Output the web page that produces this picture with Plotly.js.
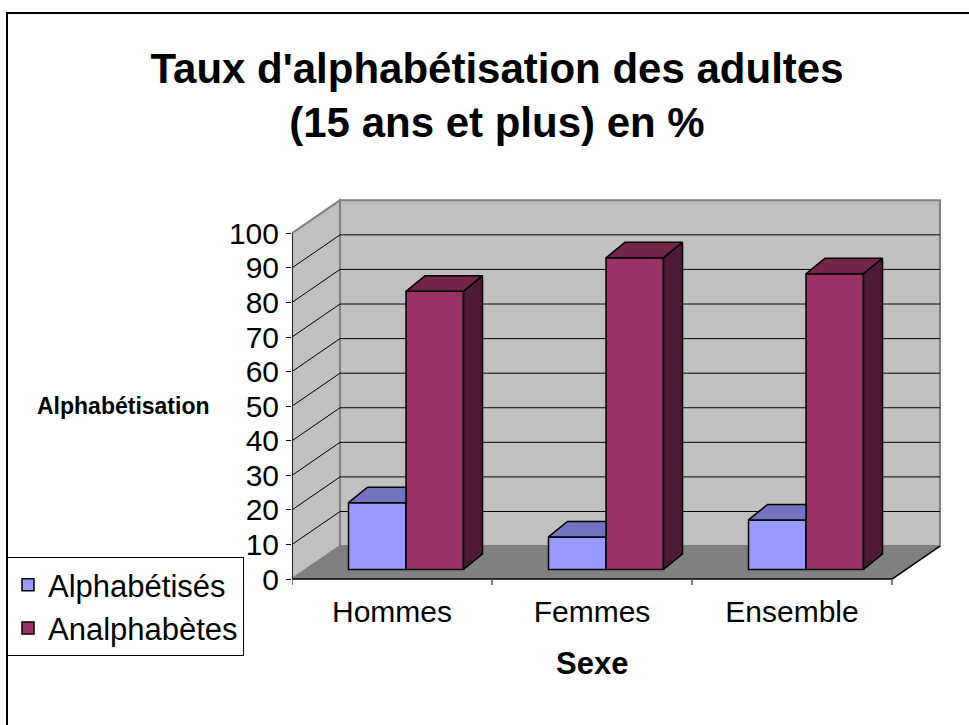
<!DOCTYPE html>
<html>
<head>
<meta charset="utf-8">
<script src="https://cdn.plot.ly/plotly-3.0.1.min.js"></script>
<style>html,body{margin:0;padding:0;background:#fff;}#chart{width:969px;height:725px;}</style>
</head>
<body>
<div id="chart"></div>
<script>
// ---- data ----
const categories = ['Hommes', 'Femmes', 'Ensemble'];
const alphabetises = [19.3, 9.4, 14.3];
const analphabetes = [80.4, 90.1, 85.5];
const seriesNames = ['Alphabétisés', 'Analphabètes'];
const yTicks = [0, 10, 20, 30, 40, 50, 60, 70, 80, 90, 100];
const chartTitle = "Taux d'alphabétisation des adultes<br>(15 ans et plus) en %";
const xTitle = 'Sexe';
const yTitle = 'Alphabétisation';

// ---- geometry (pseudo-3D oblique projection, in axis units) ----
const FONT = 'Liberation Sans, Arial, sans-serif';
const PLOT_H = 388, Y_MIN = -2, Y_MAX = 110.2;
const SY = PLOT_H / (Y_MAX - Y_MIN);   // px per value unit
const SX = 200;                         // px per category unit
const DX = 48 / SX, DY = 33 / SY;       // full depth of floor / walls
const BX0 = 14 / SX, BY0 = 9.7 / SY;    // bar front plane offset
const BDX = 19 / SX, BDY = 15.5 / SY;   // bar depth
const W = 0.2875;                       // bar width
const X0 = -0.5, X1 = categories.length - 0.5;
const YMAXV = yTicks[yTicks.length - 1];

const colors = {
  alphFront: '#9999FF', alphTop: '#7373C0',
  anaFront: '#993366', anaTop: '#732649', anaSide: '#4D1A33',
  wall: '#C0C0C0', floor: '#808080', wallEdge: '#808080'
};

const idx = categories.map((c, i) => i);
const traces = [];

traces.push({
  type: 'bar', name: seriesNames[0],
  x: idx.map(i => i - W / 2 + BX0), y: alphabetises,
  base: idx.map(() => BY0), width: idx.map(() => W),
  marker: {color: colors.alphFront, line: {color: '#000', width: 1.5}},
  hoverinfo: 'skip'
});
traces.push({
  type: 'bar', name: seriesNames[1],
  x: idx.map(i => i + W / 2 + BX0), y: analphabetes,
  base: idx.map(() => BY0), width: idx.map(() => W),
  marker: {color: colors.anaFront, line: {color: '#000', width: 1.5}},
  hoverinfo: 'skip'
});

function poly(xs, ys, fill) {
  return {type: 'scatter', mode: 'lines', x: xs.concat([xs[0]]), y: ys.concat([ys[0]]),
    fill: 'toself', fillcolor: fill, line: {color: '#000', width: 1.5},
    showlegend: false, hoverinfo: 'skip'};
}

idx.forEach(i => {
  // Alphabétisés top face (right part hidden behind the taller bar)
  let xl = i - W + BX0, xr = i + BX0, yt = BY0 + alphabetises[i];
  traces.push(poly([xl, xr, xr, xl + BDX], [yt, yt, yt + BDY, yt + BDY], colors.alphTop));
  // Analphabètes top and side faces
  xl = i + BX0; xr = i + W + BX0; yt = BY0 + analphabetes[i];
  traces.push(poly([xl, xr, xr + BDX, xl + BDX], [yt, yt, yt + BDY, yt + BDY], colors.anaTop));
  traces.push(poly([xr, xr + BDX, xr + BDX, xr], [BY0, BY0 + BDY, yt + BDY, yt], colors.anaSide));
});

// ---- walls, floor and gridlines as background shapes ----
const shapes = [];
const P = (pts) => 'M' + pts.map(p => p[0] + ',' + p[1]).join('L') + 'Z';
// back wall
shapes.push({type: 'path', layer: 'below', xref: 'x', yref: 'y',
  path: P([[X0 + DX, DY], [X1 + DX, DY], [X1 + DX, YMAXV + DY], [X0 + DX, YMAXV + DY]]),
  fillcolor: colors.wall, line: {color: colors.wallEdge, width: 2}});
// side wall
shapes.push({type: 'path', layer: 'below', xref: 'x', yref: 'y',
  path: P([[X0, 0], [X0 + DX, DY], [X0 + DX, YMAXV + DY], [X0, YMAXV]]),
  fillcolor: colors.wall, line: {color: colors.wallEdge, width: 2}});
// floor
shapes.push({type: 'path', layer: 'below', xref: 'x', yref: 'y',
  path: P([[X0, 0], [X1, 0], [X1 + DX, DY], [X0 + DX, DY]]),
  fillcolor: colors.floor, line: {width: 0}});
// gridlines
yTicks.forEach(v => {
  if (v === 0 || v === YMAXV) return;
  shapes.push({type: 'line', layer: 'below', xref: 'x', yref: 'y',
    x0: X0 + DX, x1: X1 + DX, y0: v + DY, y1: v + DY, line: {color: '#000', width: 1}});
  shapes.push({type: 'line', layer: 'below', xref: 'x', yref: 'y',
    x0: X0, x1: X0 + DX, y0: v, y1: v + DY, line: {color: '#000', width: 1}});
});
// front axis lines
shapes.push({type: 'line', layer: 'below', xref: 'x', yref: 'y',
  x0: X0, x1: X0, y0: 0, y1: YMAXV, line: {color: '#000', width: 1.5}});
shapes.push({type: 'line', layer: 'below', xref: 'x', yref: 'y',
  x0: X0, x1: X1, y0: 0, y1: 0, line: {color: '#000', width: 1.5}});
shapes.push({type: 'line', layer: 'below', xref: 'x', yref: 'y',
  x0: X1, x1: X1 + DX, y0: 0, y1: DY, line: {color: '#000', width: 1.5}});
// category boundary ticks
for (let k = 0; k <= categories.length; k++) {
  shapes.push({type: 'line', layer: 'below', xref: 'x', yref: 'y',
    x0: X0 + k, x1: X0 + k, y0: 0, y1: -6 / SY, line: {color: '#555', width: 1.5}});
}
// outer chart frame
const ML = 292, MT = 198, PW = 652;
const px2paperX = (px) => (px - ML) / PW;
const px2paperY = (py) => (MT + PLOT_H - py) / PLOT_H;
shapes.push({type: 'rect', xref: 'paper', yref: 'paper',
  x0: px2paperX(7), x1: px2paperX(990), y0: px2paperY(13), y1: px2paperY(760),
  line: {color: '#000', width: 2}, fillcolor: 'rgba(0,0,0,0)'});

const layout = {
  width: 969, height: 725,
  margin: {l: ML, r: 969 - ML - PW, t: MT, b: 725 - MT - PLOT_H, pad: 0, autoexpand: false},
  paper_bgcolor: '#fff', plot_bgcolor: '#fff',
  barmode: 'overlay', bargap: 0,
  showlegend: true,
  font: {family: FONT, color: '#000'},
  title: {text: chartTitle, xref: 'container', yref: 'container',
    x: 497 / 969, xanchor: 'center', y: 1 - 82.5 / 725, yanchor: 'middle',
    font: {family: FONT, size: 42, color: '#000', weight: 'bold'}},
  xaxis: {type: 'linear', range: [X0, X0 + PW / SX], tickvals: idx, ticktext: categories,
    showgrid: false, zeroline: false, showline: false, ticks: '', automargin: false,
    tickfont: {family: FONT, size: 30, color: '#000'}, ticklabelstandoff: 5, fixedrange: true},
  yaxis: {range: [Y_MIN, Y_MAX], tickvals: yTicks, ticktext: yTicks.map(String),
    showgrid: false, zeroline: false, showline: false, ticks: 'outside', ticklen: 5,
    tickcolor: '#000', tickwidth: 1, tickfont: {family: FONT, size: 30, color: '#000'},
    ticklabelstandoff: 1, automargin: false, fixedrange: true},
  legend: {x: px2paperX(7), xanchor: 'left', y: px2paperY(557), yanchor: 'top',
    bgcolor: '#fff', bordercolor: '#000', borderwidth: 1,
    font: {family: FONT, size: 31, color: '#000'}, traceorder: 'normal'},
  annotations: [
    {text: '<b>' + yTitle + '</b>', xref: 'paper', yref: 'paper',
      x: px2paperX(123), y: px2paperY(406), xanchor: 'center', yanchor: 'middle',
      showarrow: false, font: {family: FONT, size: 23, color: '#000'}},
    {text: '<b>' + xTitle + '</b>', xref: 'paper', yref: 'paper',
      x: px2paperX(592), y: px2paperY(663), xanchor: 'center', yanchor: 'middle',
      showarrow: false, font: {family: FONT, size: 31, color: '#000'}}
  ],
  shapes: shapes
};

Plotly.newPlot('chart', traces, layout, {displayModeBar: false, staticPlot: true});
</script>
</body>
</html>
